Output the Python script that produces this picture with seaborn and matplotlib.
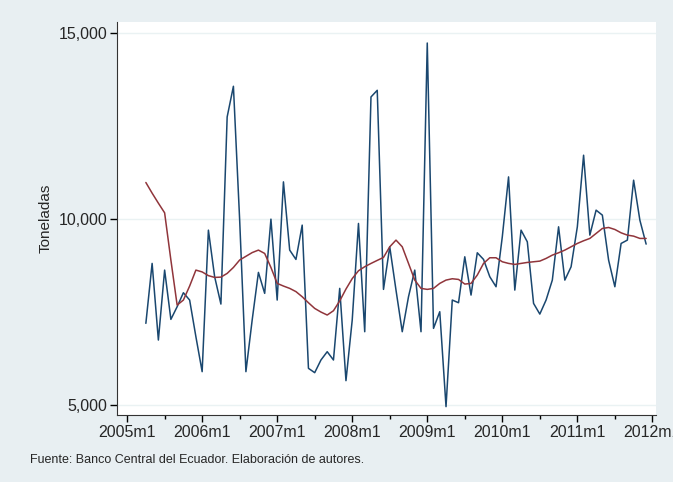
import numpy as np
import pandas as pd
import matplotlib
matplotlib.use("Agg")
import matplotlib.pyplot as plt
import seaborn as sns
from matplotlib.ticker import FuncFormatter

# months counted from 2005m1 (= 0)
months = list(range(3, 84))
toneladas = [7196, 8809, 6747, 8629, 7303, 7643, 8020, 7823, 6837, 5896,
             9704, 8450, 7715, 12750, 13575, 9973, 5896, 7285, 8567, 8003,
             10000, 7823, 11003, 9167, 8916, 9839, 5986, 5869, 6210, 6433,
             6210, 8137, 5654, 7285, 9884, 6971, 13288, 13467, 8110, 9256,
             8091, 6971, 7912, 8629, 6971, 14739, 7061, 7509, 4955, 7823,
             7751, 8987, 7957, 9095, 8916, 8450, 8181, 9525, 11137, 8091,
             9704, 9390, 7733, 7446, 7823, 8360, 9794, 8360, 8718, 9794,
             11720, 9570, 10242, 10108, 8898, 8181, 9346, 9436, 11048, 9973,
             9328]
tendencia = [10986, 10700, 10430, 10170, 8900, 7688, 7823, 8200, 8629, 8580,
             8480, 8432, 8440, 8540, 8700, 8900, 9000, 9100, 9167, 9077,
             8700, 8271, 8200, 8137, 8050, 7912, 7750, 7598, 7500, 7420,
             7536, 7800, 8119, 8400, 8611, 8720, 8808, 8890, 8970, 9256,
             9436, 9256, 8809, 8360, 8137, 8110, 8137, 8271, 8360, 8396,
             8378, 8253, 8271, 8495, 8809, 8961, 8961, 8853, 8809, 8782,
             8809, 8835, 8853, 8871, 8943, 9032, 9095, 9167, 9256, 9346,
             9418, 9481, 9615, 9749, 9776, 9722, 9632, 9570, 9543, 9481,
             9481]
tick_labels = ["2005m1", "2006m1", "2007m1", "2008m1", "2009m1",
               "2010m1", "2011m1", "2012m1"]

df = pd.DataFrame({"mes": months, "toneladas": toneladas, "tendencia": tendencia})

sns.set_style("white")
plt.rcParams["font.family"] = ["Liberation Sans", "DejaVu Sans"]

fig = plt.figure(figsize=(6.73, 4.82), dpi=100)
fig.patch.set_facecolor("#e8eff2")
ax = fig.add_axes([0.174, 0.139, 0.800, 0.815])
ax.set_facecolor("white")

ax.grid(axis="y", color="#eaf2f3", lw=1)
sns.lineplot(data=df, x="mes", y="toneladas", color="#1a476f", lw=1.1, ax=ax)
sns.lineplot(data=df, x="mes", y="tendencia", color="#90353b", lw=1.1, ax=ax)

ax.set_xlim(-1.6, 84.5)
ax.set_ylim(4730, 15300)
ax.set_yticks([5000, 10000, 15000])
ax.yaxis.set_major_formatter(FuncFormatter(lambda v, p: f"{int(v):,}"))
ax.set_xticks(range(0, 85, 12))
ax.set_xticklabels(tick_labels)
ax.set_xticks(range(6, 85, 12), minor=True)
ax.tick_params(axis="both", which="major", length=5, width=1, color="black",
               labelsize=11.5, direction="out", bottom=True, left=True, pad=2)
ax.tick_params(axis="x", which="minor", length=3, width=1, color="black", bottom=True)
ax.set_xlabel("")
ax.set_ylabel("Toneladas", fontsize=11)
for s in ["top", "right"]:
    ax.spines[s].set_visible(False)
for s in ["left", "bottom"]:
    ax.spines[s].set_color("#333333")

fig.text(0.045, 0.04, "Fuente: Banco Central del Ecuador. Elaboración de autores.",
         fontsize=9)

fig.savefig("out.png", dpi=100, facecolor=fig.get_facecolor())
